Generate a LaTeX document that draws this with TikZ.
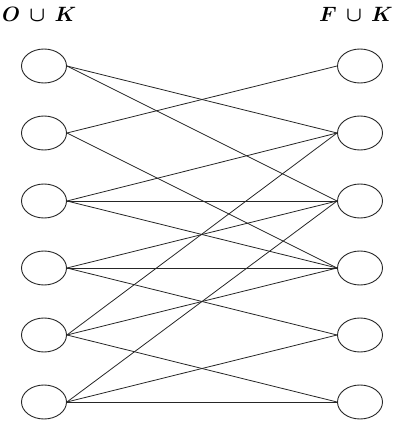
\documentclass[tikz,border=0pt]{standalone}
\usetikzlibrary{shapes.geometric}
\begin{document}
\begin{tikzpicture}[x=1pt,y=-1pt,
  vert/.style={ellipse,draw=black!85,line width=0.9pt,minimum width=45pt,minimum height=34pt,inner sep=0pt},
  edge/.style={draw=black!85,line width=0.8pt},
  lab/.style={font=\fontsize{21}{25}\selectfont\boldmath,inner sep=0pt}]
\useasboundingbox (0,0) rectangle (393,423);
\node[lab,anchor=west] (tl) at (2,14) {$O\,\cup\,K$};
\node[lab,anchor=east] (tr) at (393,14) {$F\,\cup\,K$};
\foreach \i/\y in {1/66,2/133,3/201,4/268,5/335,6/402}{
  \node[vert] (L\i) at (44,\y) {};
  \node[vert] (R\i) at (360,\y) {};
}
\foreach \a/\b in {1/2,1/3,2/1,2/4,3/2,3/3,3/4,4/3,4/4,4/5,5/2,5/4,5/6,6/3,6/5,6/6}{
  \path[edge] (L\a.east) -- (R\b.west);
}
\end{tikzpicture}
\end{document}
